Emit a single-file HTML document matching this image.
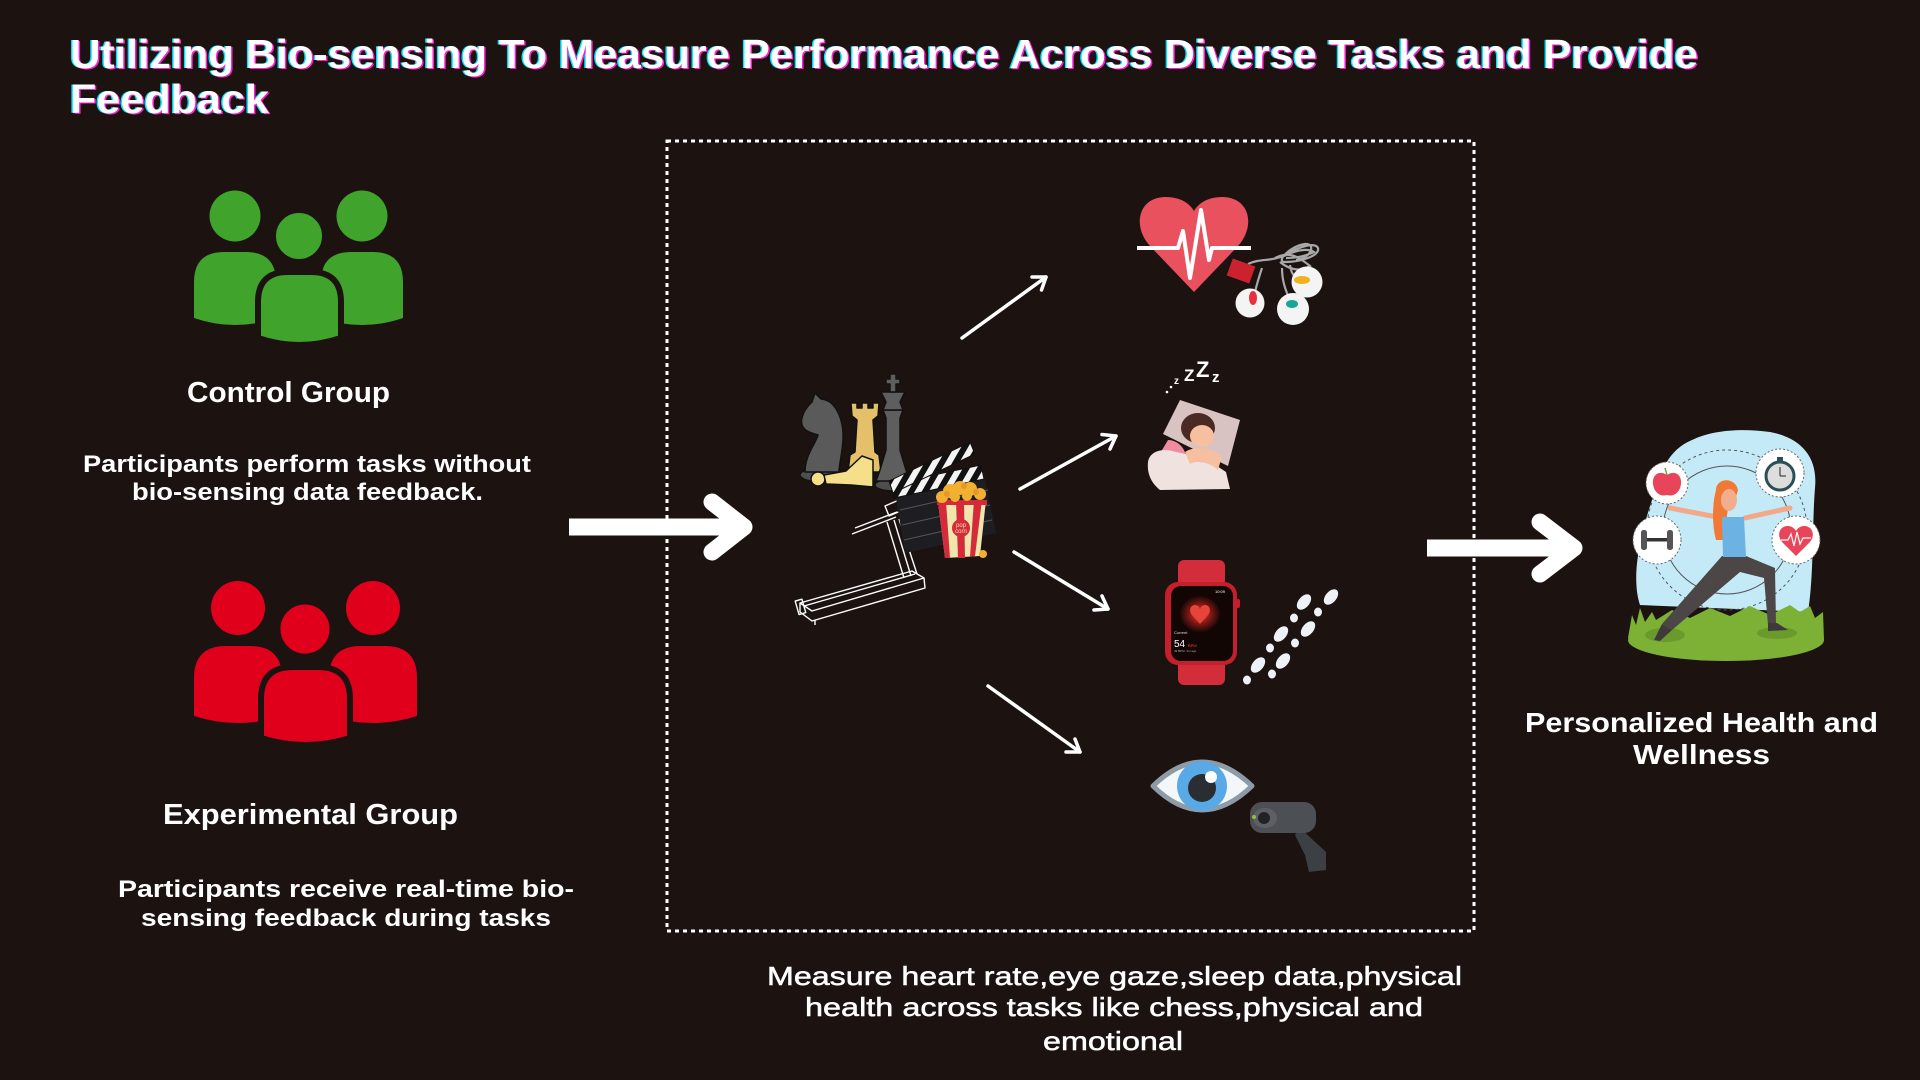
<!DOCTYPE html>
<html><head><meta charset="utf-8"><style>
html,body{margin:0;padding:0;background:#1c1311;}
svg{display:block}
text{font-family:"Liberation Sans",sans-serif;}
</style></head><body>
<svg width="1920" height="1080" viewBox="0 0 1920 1080" xmlns="http://www.w3.org/2000/svg">
<defs>
<pattern id="stripe" width="12" height="12" patternUnits="userSpaceOnUse" patternTransform="rotate(30)">
<rect width="12" height="12" fill="#f4f4f4"/><rect width="6" height="12" fill="#111"/>
</pattern>
<radialGradient id="glow" cx="50%" cy="50%" r="50%">
<stop offset="0" stop-color="#ff4a3a"/><stop offset="0.5" stop-color="#8a1a14"/><stop offset="1" stop-color="#1a0806"/>
</radialGradient>
</defs>
<rect width="1920" height="1080" fill="#1c1311"/>

<!-- Title -->
<g font-weight="bold" font-size="41">
<text x="68.5" y="68" fill="#00e6ff" textLength="1628" lengthAdjust="spacingAndGlyphs">Utilizing Bio-sensing To Measure Performance Across Diverse Tasks and Provide</text>
<text x="71.5" y="69" fill="#ff1ecf" textLength="1628" lengthAdjust="spacingAndGlyphs">Utilizing Bio-sensing To Measure Performance Across Diverse Tasks and Provide</text>
<text x="70" y="68" fill="#ffffff" textLength="1628" lengthAdjust="spacingAndGlyphs">Utilizing Bio-sensing To Measure Performance Across Diverse Tasks and Provide</text>
<text x="68.5" y="113" fill="#00e6ff" textLength="199" lengthAdjust="spacingAndGlyphs">Feedback</text>
<text x="71.5" y="114" fill="#ff1ecf" textLength="199" lengthAdjust="spacingAndGlyphs">Feedback</text>
<text x="70" y="113" fill="#ffffff" textLength="199" lengthAdjust="spacingAndGlyphs">Feedback</text>
</g>

<!-- Green group -->
<g fill="#40a32b">
<circle cx="235" cy="216" r="25.5"/>
<circle cx="362" cy="216" r="25.5"/>
<path d="M194,318 L194,282 Q194,252 224,252 L246,252 Q276,252 276,282 L276,318 Q235,332 194,318 Z"/>
<path d="M321,318 L321,282 Q321,252 351,252 L373,252 Q403,252 403,282 L403,318 Q362,332 321,318 Z"/>
<circle cx="299" cy="236" r="25.5" stroke="#1c1311" stroke-width="5"/>
<path d="M258,338 L258,302 Q258,272 288,272 L311,272 Q341,272 341,302 L341,338 Q299,352 258,338 Z" stroke="#1c1311" stroke-width="6"/>
</g>
<!-- Red group -->
<g fill="#e0001b">
<circle cx="238" cy="608" r="27"/>
<circle cx="373" cy="608" r="27"/>
<path d="M194,716 L194,678 Q194,646 226,646 L250,646 Q282,646 282,678 L282,716 Q238,730 194,716 Z"/>
<path d="M329,716 L329,678 Q329,646 361,646 L385,646 Q417,646 417,678 L417,716 Q373,730 329,716 Z"/>
<circle cx="305" cy="629" r="27" stroke="#1c1311" stroke-width="5"/>
<path d="M261,738 L261,699 Q261,667 293,667 L318,667 Q350,667 350,699 L350,738 Q305,752 261,738 Z" stroke="#1c1311" stroke-width="6"/>
</g>

<!-- Left texts -->
<g fill="#fff" font-weight="bold">
<text x="187" y="402" font-size="29" textLength="203" lengthAdjust="spacingAndGlyphs">Control Group</text>
<text x="83" y="472" font-size="24" textLength="448" lengthAdjust="spacingAndGlyphs">Participants perform tasks without</text>
<text x="132" y="500" font-size="24" textLength="351" lengthAdjust="spacingAndGlyphs">bio-sensing data feedback.</text>
<text x="163" y="824" font-size="29" textLength="295" lengthAdjust="spacingAndGlyphs">Experimental Group</text>
<text x="118" y="897" font-size="24" textLength="456" lengthAdjust="spacingAndGlyphs">Participants receive real-time bio-</text>
<text x="141" y="926" font-size="24" textLength="410" lengthAdjust="spacingAndGlyphs">sensing feedback during tasks</text>
</g>

<!-- Big arrows -->
<g stroke="#fff" stroke-width="17" fill="none" stroke-linecap="round" stroke-linejoin="round">
<line x1="569" y1="527" x2="740" y2="527" stroke-linecap="butt"/>
<polyline points="712,502 744,527 712,552"/>
<line x1="1427" y1="548" x2="1570" y2="548" stroke-linecap="butt"/>
<polyline points="1540,522 1574,548 1540,574"/>
</g>

<!-- Dotted box -->
<rect x="667" y="141" width="807" height="790" fill="none" stroke="#fff" stroke-width="3" stroke-dasharray="4 4"/>

<!-- Thin arrows -->
<g stroke="#fff" stroke-width="3.5" fill="none" stroke-linecap="round" stroke-linejoin="round">
<line x1="962" y1="338" x2="1046" y2="277"/><polyline points="1032,277 1046,277 1041.5,290"/>
<line x1="1020" y1="489" x2="1116" y2="436"/><polyline points="1102,434.5 1116,436 1110,449"/>
<line x1="1014" y1="552" x2="1108" y2="609"/><polyline points="1102,596 1108,609 1094,610"/>
<line x1="988" y1="686" x2="1080" y2="752"/><polyline points="1075,739 1080,752 1066,752"/>
</g>

<!-- Chess -->
<g stroke="#111" stroke-width="1.5" stroke-linejoin="round">
<ellipse cx="822" cy="475" rx="22" ry="7" fill="#4e4e4e"/>
<path d="M805,472 C805,455 815,445 818,435 C812,433 805,432 802,425 C800,418 805,408 812,402 L815,393 L821,399 C836,400 844,420 843,440 C842,455 839,465 839,472 Z" fill="#5a5a5a"/>
<path d="M848,472 L850,455 L855,452 L857,420 L852,416 L851,403 L857,403 L857,408 L862,408 L862,403 L868,403 L868,408 L873,408 L873,403 L879,403 L878,416 L873,420 L875,452 L879,455 L881,472 Z" fill="#e5c06b"/>
<ellipse cx="893" cy="485" rx="18" ry="6" fill="#4e4e4e"/>
<path d="M883,410 L903,410 L900,418 L900,450 L906,470 L910,481 L876,481 L880,470 L886,450 L886,418 Z" fill="#5e5e5e"/>
<path d="M881,392 L905,392 L900,402 L903,410 L883,410 L886,402 Z" fill="#5e5e5e"/>
<path d="M890,374 L896,374 L896,379 L900,379 L900,384 L896,384 L896,392 L890,392 L890,384 L886,384 L886,379 L890,379 Z" fill="#5e5e5e"/>
<circle cx="818" cy="479" r="7" fill="#f6df8a"/>
<path d="M824,475 L846,471 L862,456 L873,460 L873,487 L851,485 L826,484 Z" fill="#f6df8a"/>
</g>

<!-- Treadmill -->
<g stroke="#fff" stroke-width="1.4" fill="none" stroke-linejoin="round">
<polygon points="800,603 912,571 924,578 812,611"/>
<polyline points="800,603 800,612 812,621 925,588 924,578"/>
<polyline points="804,606 915,574"/>
<rect x="797" y="600" width="7" height="14" transform="rotate(-16 800 607)"/>
<line x1="815" y1="620" x2="815" y2="625"/>
<polyline points="904,578 887,522"/><polyline points="911,576 894,520"/><polyline points="917,574 899,519"/>
<polyline points="852,534 896,517"/><polyline points="855,528 897,512"/>
<polygon points="885,506 899,500 903,510 889,516"/>
</g>

<!-- Clapperboard -->
<polygon points="895,492 983,470 996,533 905,553" fill="#1e1e22"/>
<g stroke="#555" stroke-width="1"><line x1="900" y1="510" x2="988" y2="490"/><line x1="902" y1="525" x2="990" y2="505"/><line x1="904" y1="540" x2="992" y2="520"/></g>
<polygon points="891,484 981,465 984,479 894,498" fill="url(#stripe)" stroke="#111" stroke-width="1"/>
<polygon points="889,481 970,442 975,454 893,493" fill="url(#stripe)" stroke="#111" stroke-width="1"/>

<!-- Popcorn -->
<polygon points="938,502 986,500 980,556 945,558" fill="#efe6ae"/>
<g fill="#d42a3a">
<polygon points="938,502 946,502 950,558 945,558"/>
<polygon points="956,501 964,501 965,558 958,558"/>
<polygon points="974,500 982,500 975,556 970,557"/>
<rect x="937" y="500" width="50" height="5"/>
</g>
<circle cx="961" cy="528" r="9" fill="#d42a3a"/>
<text x="961" y="527" font-size="6" fill="#efe6ae" text-anchor="middle">pop</text>
<text x="961" y="533" font-size="6" fill="#efe6ae" text-anchor="middle">corn</text>
<g fill="#f2b030">
<circle cx="942" cy="497" r="6"/><circle cx="950" cy="491" r="7"/><circle cx="960" cy="488" r="7"/><circle cx="970" cy="489" r="7"/><circle cx="980" cy="494" r="6"/><circle cx="955" cy="497" r="5"/><circle cx="967" cy="496" r="5"/><circle cx="983" cy="554" r="4"/>
</g>
<g fill="#e8962a"><circle cx="947" cy="494" r="3"/><circle cx="964" cy="486" r="3"/><circle cx="976" cy="492" r="3"/></g>

<!-- Heart ECG -->
<path d="M1194,292 L1150,246 C1132,226 1138,197 1166,197 C1181,197 1190,204 1194,211 C1198,204 1207,197 1222,197 C1250,197 1256,226 1238,246 Z" fill="#e9515f"/>
<polyline points="1137,248 1178,248 1183,231 1190,278 1201,210 1209,260 1212,248 1251,248" fill="none" stroke="#fff" stroke-width="4" stroke-linejoin="round"/>
<!-- electrodes -->
<g fill="none" stroke="#a8a8a8" stroke-width="2.2">
<path d="M1248,264 C1260,258 1272,262 1285,255 C1300,246 1315,242 1318,248 C1320,256 1300,262 1285,262 C1275,262 1290,246 1305,244 C1316,243 1312,258 1296,260"/>
<path d="M1280,262 C1290,270 1300,272 1310,266 C1300,258 1290,250 1275,258"/>
<path d="M1284,256 C1296,250 1308,248 1314,252 C1306,256 1296,258 1286,258"/>
<path d="M1262,268 C1258,280 1255,290 1254,298"/>
<path d="M1290,265 C1292,280 1300,278 1302,280"/>
<path d="M1282,268 C1282,285 1288,295 1292,305"/>
</g>
<rect x="1229" y="262" width="24" height="18" fill="#cc2230" transform="rotate(20 1241 271)"/>
<circle cx="1250" cy="303" r="14.5" fill="#f4f4f4"/>
<circle cx="1307" cy="282" r="15.5" fill="#f4f4f4"/>
<circle cx="1293" cy="309" r="16" fill="#f4f4f4"/>
<ellipse cx="1253" cy="298" rx="4" ry="7" fill="#e8303c"/>
<ellipse cx="1302" cy="280" rx="8" ry="4" fill="#f0b020"/>
<ellipse cx="1292" cy="304" rx="6" ry="4" fill="#1aa59a"/>

<!-- zZZ -->
<g fill="#fff" font-weight="bold">
<text x="1174" y="384" font-size="10">z</text>
<text x="1184" y="381" font-size="17">Z</text>
<text x="1196" y="377" font-size="22">Z</text>
<text x="1212" y="382" font-size="15">z</text>
<circle cx="1167" cy="392" r="1.3"/><circle cx="1171" cy="387" r="1.3"/>
</g>
<!-- sleeping woman -->
<polygon points="1180,400 1240,420 1228,466 1163,434" fill="#d9c3c2"/>
<ellipse cx="1198" cy="428" rx="17" ry="15" fill="#4b2a23"/>
<ellipse cx="1202" cy="436" rx="12" ry="11" fill="#f6bfa0"/>
<path d="M1168,440 C1176,440 1184,446 1186,456 L1170,470 L1155,462 Z" fill="#f08ca0"/>
<path d="M1148,462 C1150,450 1164,448 1176,452 L1205,458 L1226,472 L1230,489 L1160,490 C1150,482 1147,472 1148,462 Z" fill="#efe2df"/>
<path d="M1185,452 C1195,445 1212,448 1222,456 L1218,470 C1210,462 1195,460 1190,464 Z" fill="#f6bfa0"/>

<!-- Watch -->
<rect x="1178" y="560" width="47" height="125" rx="6" fill="#d32c3a"/>
<rect x="1165" y="582" width="72" height="83" rx="13" fill="#c41f2c"/>
<rect x="1236" y="599" width="4" height="9" rx="2" fill="#c41f2c"/>
<rect x="1171" y="586" width="62" height="75" rx="10" fill="#120605"/>
<ellipse cx="1200" cy="614" rx="20" ry="18" fill="url(#glow)"/>
<path d="M1200,624 L1192,615 C1188,610 1191,605 1195,605 C1198,605 1199,607 1200,609 C1201,607 1202,605 1205,605 C1209,605 1212,610 1208,615 Z" fill="#e8443a"/>
<text x="1174" y="634" font-size="4" fill="#ddd">Current</text>
<text x="1174" y="647" font-size="10" fill="#fff">54</text>
<text x="1188" y="647" font-size="4" fill="#ff4030">BPM</text>
<text x="1174" y="652" font-size="3" fill="#aaa">49 BPM, 3m ago</text>
<text x="1215" y="593" font-size="4" fill="#fff">10:09</text>
<!-- footprints -->
<g fill="#eef2f6">
<ellipse cx="1331" cy="597" rx="5.5" ry="9" transform="rotate(40 1331 597)"/><ellipse cx="1318" cy="612" rx="4" ry="4.5"/>
<ellipse cx="1304" cy="602" rx="5.5" ry="9" transform="rotate(40 1304 602)"/><ellipse cx="1294" cy="618" rx="4" ry="4.5"/>
<ellipse cx="1308" cy="629" rx="5.5" ry="9" transform="rotate(40 1308 629)"/><ellipse cx="1295" cy="643" rx="4" ry="4.5"/>
<ellipse cx="1281" cy="634" rx="5.5" ry="9" transform="rotate(40 1281 634)"/><ellipse cx="1270" cy="648" rx="4" ry="4.5"/>
<ellipse cx="1283" cy="661" rx="5.5" ry="9" transform="rotate(40 1283 661)"/><ellipse cx="1272" cy="674" rx="4" ry="4.5"/>
<ellipse cx="1258" cy="665" rx="5.5" ry="9" transform="rotate(40 1258 665)"/><ellipse cx="1247" cy="680" rx="4" ry="4.5"/>
</g>

<!-- Eye -->
<path d="M1153,786 Q1202,738 1252,786 Q1202,834 1153,786 Z" fill="#f3f7fa" stroke="#8d9ba6" stroke-width="5" stroke-linejoin="round"/>
<circle cx="1202" cy="786" r="25" fill="#58a9e6"/>
<circle cx="1202" cy="788" r="14" fill="#2a2e33"/>
<circle cx="1211" cy="777" r="6" fill="#fff"/>
<!-- webcam -->
<path d="M1300,828 L1326,852 L1326,870 L1309,872 L1305,855 L1295,835 Z" fill="#3c3f44"/>
<rect x="1250" y="802" width="66" height="31" rx="12" fill="#4c4f54"/>
<ellipse cx="1265" cy="818" rx="12" ry="10" fill="#5c5f64"/>
<circle cx="1264" cy="818" r="6" fill="#202226"/>
<circle cx="1254" cy="817" r="2" fill="#8fc23c"/>

<!-- Yoga illustration -->
<path d="M1640,605 C1630,575 1642,530 1652,500 C1660,472 1668,450 1692,440 C1712,430 1742,428 1770,432 C1802,438 1818,458 1815,488 C1812,525 1814,575 1808,612 Z" fill="#c5eaf7"/>
<circle cx="1727" cy="530" r="64" fill="none" stroke="#555" stroke-width="1"/>
<circle cx="1727" cy="530" r="80" fill="none" stroke="#555" stroke-width="1" stroke-dasharray="3 3"/>
<path d="M1628,638 L1632,615 L1636,625 L1640,608 L1645,622 L1652,612 L1656,620 L1672,610 L1690,618 L1710,608 L1730,616 L1750,606 L1770,615 L1790,605 L1800,612 L1810,606 L1815,618 L1823,612 L1824,640 Z" fill="#7cb136"/>
<ellipse cx="1726" cy="640" rx="98" ry="21" fill="#7cb136"/>
<ellipse cx="1665" cy="635" rx="20" ry="7" fill="#6a9a2c"/>
<ellipse cx="1777" cy="633" rx="20" ry="6" fill="#6a9a2c"/>
<!-- woman -->
<path d="M1722,556 L1746,556 L1775,568 L1776,625 L1768,625 L1764,578 L1740,572 L1672,630 L1662,624 Z" fill="#4c4646"/>
<path d="M1662,624 L1672,630 L1660,641 L1654,640 Z" fill="#3e3a3a"/>
<path d="M1768,623 L1777,623 L1788,630 L1768,631 Z" fill="#3e3a3a"/>
<path d="M1670,508 L1722,518 M1745,518 L1790,508" stroke="#f2a98a" stroke-width="5" stroke-linecap="round" fill="none"/>
<path d="M1716,490 C1716,478 1735,476 1738,490 L1735,500 L1728,508 L1724,540 L1716,540 C1712,525 1712,505 1716,490 Z" fill="#f07a35"/>
<ellipse cx="1729" cy="500" rx="8" ry="11" fill="#f2ad8e"/>
<path d="M1722,517 L1744,517 L1746,557 L1723,557 Z" fill="#6cb3e3"/>
<!-- circles -->
<g fill="#fff" stroke="#666" stroke-width="1" stroke-dasharray="2 2">
<circle cx="1667" cy="483" r="21"/><circle cx="1780" cy="473" r="24"/><circle cx="1657" cy="540" r="24"/><circle cx="1796" cy="540" r="24"/>
</g>
<path d="M1667,475 C1660,470 1652,474 1653,484 C1654,493 1661,497 1667,495 C1673,497 1680,493 1681,484 C1682,474 1674,470 1667,475 Z" fill="#e8455a"/>
<line x1="1667" y1="475" x2="1665" y2="468" stroke="#6a4" stroke-width="1.5"/>
<circle cx="1780" cy="476" r="14" fill="#ddd" stroke="#2c4f55" stroke-width="3"/>
<rect x="1777" y="457" width="6" height="4" fill="#2c4f55"/>
<line x1="1780" y1="476" x2="1780" y2="467" stroke="#222" stroke-width="1"/><line x1="1780" y1="476" x2="1786" y2="476" stroke="#222" stroke-width="1"/>
<rect x="1645" y="538" width="24" height="3.5" fill="#333"/>
<rect x="1641" y="530" width="6" height="20" rx="2.5" fill="#555"/><rect x="1667" y="530" width="6" height="20" rx="2.5" fill="#555"/>
<path d="M1796,556 L1783,543 C1776,536 1779,526 1788,526 C1792,526 1795,529 1796,531 C1797,529 1800,526 1804,526 C1813,526 1816,536 1809,543 Z" fill="#e8455a"/>
<polyline points="1781,540 1788,540 1791,534 1794,546 1797,532 1800,544 1803,538 1811,538" fill="none" stroke="#fff" stroke-width="1.2"/>

<text x="1525" y="732" font-size="28" font-weight="bold" fill="#fff" textLength="353" lengthAdjust="spacingAndGlyphs">Personalized Health and</text>
<text x="1633" y="764" font-size="28" font-weight="bold" fill="#fff" textLength="137" lengthAdjust="spacingAndGlyphs">Wellness</text>

<!-- Bottom text -->
<g fill="#fff" font-size="26" stroke="#fff" stroke-width="0.5">
<text x="767" y="985" textLength="695" lengthAdjust="spacingAndGlyphs">Measure heart rate,eye gaze,sleep data,physical</text>
<text x="805" y="1016" textLength="618" lengthAdjust="spacingAndGlyphs">health across tasks like chess,physical and</text>
<text x="1043" y="1050" textLength="140" lengthAdjust="spacingAndGlyphs">emotional</text>
</g>
</svg>
</body></html>
